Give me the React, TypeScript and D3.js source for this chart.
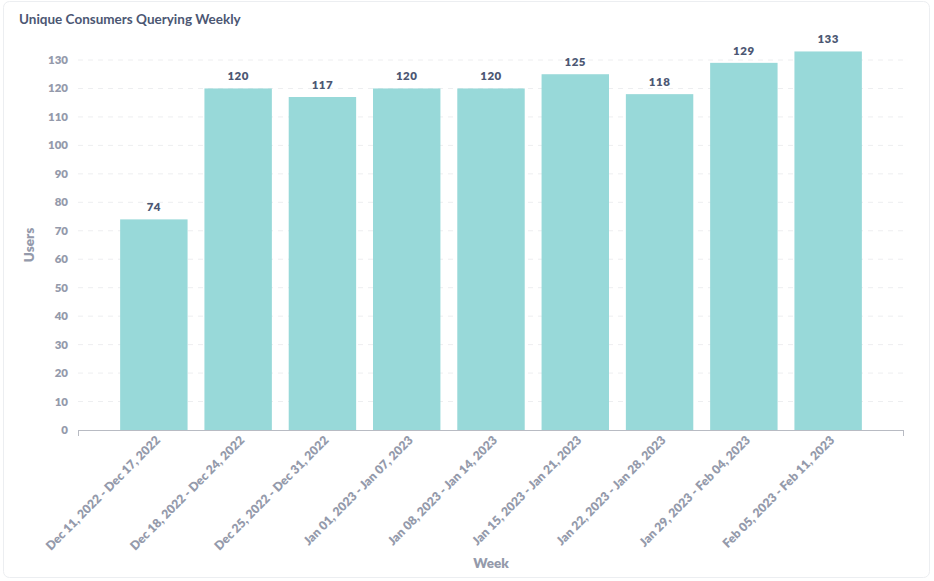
import React from 'react';
import * as d3 from 'd3';

const weeks = [
  'Dec 11, 2022 - Dec 17, 2022',
  'Dec 18, 2022 - Dec 24, 2022',
  'Dec 25, 2022 - Dec 31, 2022',
  'Jan 01, 2023 - Jan 07, 2023',
  'Jan 08, 2023 - Jan 14, 2023',
  'Jan 15, 2023 - Jan 21, 2023',
  'Jan 22, 2023 - Jan 28, 2023',
  'Jan 29, 2023 - Feb 04, 2023',
  'Feb 05, 2023 - Feb 11, 2023',
];
const users = [74, 120, 117, 120, 120, 125, 118, 129, 133];
const yTicks = [0, 10, 20, 30, 40, 50, 60, 70, 80, 90, 100, 110, 120, 130];

const W = 934;
const H = 581;
const left = 78;
const right = 904;
const top = 60;
const bottom = 430;
const font = 'Lato, "Noto Sans", sans-serif';

export default function App() {
  const x = d3.scaleBand<string>().domain(weeks).range([left, right]).paddingInner(0.2).paddingOuter(0.5);
  const y = d3.scaleLinear().domain([0, 130]).range([bottom, top]);

  return (
    <svg width={W} height={H} style={{ position: 'absolute', left: 0, top: 0 }} fontFamily={font}>
      <rect x={3.5} y={1.5} width={926} height={576} rx={6} fill="#fff" stroke="#ECEEF1" />
      <text x={19} y={24} fontSize={13.5} fontWeight={700} fill="#4C5773">Unique Consumers Querying Weekly</text>

      {/* grid + y ticks */}
      {yTicks.map(t => (
        <g key={t}>
          {t > 0 && (
            <line x1={left} x2={right} y1={y(t)} y2={y(t)} stroke="#EDEEF0" strokeDasharray="5,5" />
          )}
          <text x={68} y={y(t)} dy="0.35em" textAnchor="end" fontSize={11.5} fontWeight={800} fill="#949AAB">{t}</text>
        </g>
      ))}

      {/* bars */}
      {weeks.map((w, i) => (
        <g key={w}>
          <rect x={x(w)} y={y(users[i])} width={x.bandwidth()} height={bottom - y(users[i])} fill="#98D9D9" />
          <text x={x(w)! + x.bandwidth() / 2} y={y(users[i]) - 8} textAnchor="middle" fontSize={11.5} fontWeight={800}
            fill="#4C5773" letterSpacing={0.5}>{users[i]}</text>
        </g>
      ))}

      {/* x axis */}
      <line x1={left} x2={right} y1={bottom + 0.5} y2={bottom + 0.5} stroke="#B8BBC3" />
      <line x1={left + 0.5} x2={left + 0.5} y1={bottom} y2={bottom + 6} stroke="#B8BBC3" />
      <line x1={right - 0.5} x2={right - 0.5} y1={bottom} y2={bottom + 6} stroke="#B8BBC3" />
      {weeks.map(w => {
        const cx = x(w)! + x.bandwidth() / 2;
        return (
          <text key={w} transform={`translate(${cx + 4},${bottom + 8}) rotate(-45)`} textAnchor="end" dy="0.35em"
            fontSize={12.2} fontWeight={800} fill="#949AAB">{w}</text>
        );
      })}

      <text transform={`translate(34,${(top + bottom) / 2}) rotate(-90)`} textAnchor="middle" fontSize={13.5}
        fontWeight={800} fill="#949AAB">Users</text>
      <text x={(left + right) / 2} y={568} textAnchor="middle" fontSize={13.5} fontWeight={800} fill="#949AAB">Week</text>
    </svg>
  );
}
